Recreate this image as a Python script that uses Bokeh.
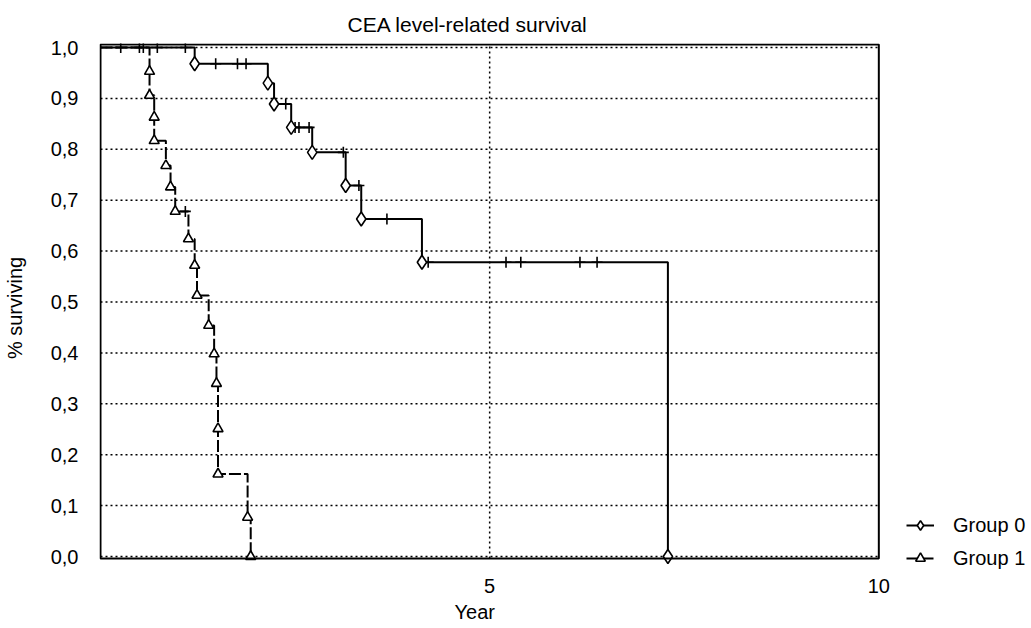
from bokeh.plotting import figure
from bokeh.models import Range1d, FixedTicker, Legend, LegendItem, BoxAnnotation, Title
from bokeh.embed import file_html
from bokeh.resources import INLINE

# ---------------- data ----------------
title_text = "CEA level-related survival"
x_label = "Year"
y_label = "% surviving"
x_tick_values = [5, 10]
x_tick_labels = ["5", "10"]
x_grid_values = [5]
y_tick_values = [0.0, 0.1, 0.2, 0.3, 0.4, 0.5, 0.6, 0.7, 0.8, 0.9, 1.0]
y_tick_labels = ["0,0", "0,1", "0,2", "0,3", "0,4", "0,5", "0,6", "0,7", "0,8", "0,9", "1,0"]
x_axis_min, x_axis_max = 0.0, 10.0
y_axis_min, y_axis_max = -0.004, 1.006

# Group 0: event times (years) and survival after each event
g0_event_t = [1.21, 2.15, 2.23, 2.45, 2.72, 3.15, 3.35, 4.13, 7.29]
g0_event_s = [0.968, 0.930, 0.889, 0.843, 0.794, 0.729, 0.663, 0.578, 0.0]
# Group 0: censored observations
g0_cens_t = [0.26, 0.50, 0.55, 0.73, 1.09, 1.48, 1.76, 1.87, 2.38, 2.50, 2.55,
             2.68, 3.12, 3.32, 3.68, 4.21, 5.21, 5.40, 6.16, 6.38]
g0_cens_s = [1.0, 1.0, 1.0, 1.0, 1.0, 0.968, 0.968, 0.968, 0.889, 0.843, 0.843,
             0.843, 0.794, 0.729, 0.663, 0.578, 0.578, 0.578, 0.578, 0.578]

# Group 1
g1_event_t = [0.63, 0.63, 0.69, 0.69, 0.84, 0.90, 0.96, 1.13, 1.21, 1.24,
              1.39, 1.46, 1.49, 1.51, 1.51, 1.89, 1.93]
g1_event_s = [0.953, 0.906, 0.863, 0.817, 0.768, 0.726, 0.678, 0.624, 0.572, 0.513,
              0.454, 0.398, 0.340, 0.251, 0.162, 0.077, 0.0]
g1_cens_t = [1.09]
g1_cens_s = [0.678]

group_names = ["Group 0", "Group 1"]


def km_steps(ts, ss):
    xs, ys = [0.0], [1.0]
    prev = 1.0
    for t, s in zip(ts, ss):
        xs.append(t); ys.append(prev)
        xs.append(t); ys.append(s)
        prev = s
    return xs, ys


FONT = "Liberation Sans"
FS = "20px"
G1_DASH = "12 3"

# pixel geometry of the plotting box (98..878 x 44..558); the frame is wider so the
# legend (right of the box) can be drawn inside the frame
PX_X = 78.0    # px per year
PX_Y = 509.0   # px per unit survival
FRAME_L, FRAME_R, FRAME_T, FRAME_B = 97, 1031, 43, 572
x_start = -(98 - FRAME_L) / PX_X
x_end = 10 + (FRAME_R - 878) / PX_X
y_end = 1 + (47 - FRAME_T) / PX_Y
y_start = -(FRAME_B - 556) / PX_Y

p = figure(width=1031, height=628, x_range=Range1d(x_start, x_end), y_range=Range1d(y_start, y_end),
           output_backend="svg", toolbar_location=None,
           min_border_left=FRAME_L, min_border_right=1031 - FRAME_R,
           min_border_top=FRAME_T, min_border_bottom=628 - FRAME_B,
           title=title_text)

p.title.text_font = FONT
p.title.text_font_size = "21px"
p.title.text_font_style = "normal"
p.title.text_color = "black"
p.title.align = "left"
p.title.offset = 248
p.title.standoff = 16

p.background_fill_color = "white"
p.border_fill_color = "white"
p.outline_line_color = None

# axes
p.xaxis.ticker = FixedTicker(ticks=x_tick_values)
p.xaxis.major_label_overrides = dict(zip(x_tick_values, x_tick_labels))
p.yaxis.ticker = FixedTicker(ticks=y_tick_values)
p.yaxis.major_label_overrides = dict(zip(y_tick_values, y_tick_labels))
p.yaxis.axis_label = y_label
for ax in (p.xaxis, p.yaxis):
    ax.axis_line_color = None
    ax.major_tick_line_color = None
    ax.minor_tick_line_color = None
    ax.major_label_text_font = FONT
    ax.major_label_text_font_size = FS
    ax.major_label_text_color = "black"
    ax.axis_label_text_font = FONT
    ax.axis_label_text_font_size = FS
    ax.axis_label_text_font_style = "normal"
    ax.axis_label_text_color = "black"
p.xaxis.major_label_standoff = 0
p.yaxis.major_label_standoff = 15
p.yaxis.axis_label_standoff = 22

xt = Title(text=x_label, align="left", offset=355, standoff=6,
           text_font=FONT, text_font_size=FS, text_font_style="normal", text_color="black")
p.add_layout(xt, "below")

# dotted grid, limited to the plotting box
p.grid.visible = False
ny = len(y_tick_values)
p.segment(x0=[x_axis_min] * ny, y0=y_tick_values, x1=[x_axis_max] * ny, y1=y_tick_values,
          line_color="black", line_dash="2 3", line_width=1.5)
nx = len(x_grid_values)
p.segment(x0=x_grid_values, y0=[y_axis_min] * nx, x1=x_grid_values, y1=[y_axis_max] * nx,
          line_color="black", line_dash="2 3", line_width=1.5)

# plotting box border
box = BoxAnnotation(left=x_axis_min, right=x_axis_max, bottom=y_axis_min, top=y_axis_max,
                    fill_color=None, fill_alpha=0, line_color="black", line_alpha=1.0,
                    line_width=2)
p.add_layout(box)

# curves
x0, y0 = km_steps(g0_event_t, g0_event_s)
x1, y1 = km_steps(g1_event_t, g1_event_s)

l0 = p.line(x0, y0, line_color="black", line_width=2)
l1 = p.line(x1, y1, line_color="black", line_width=2, line_dash=G1_DASH)

p.scatter(g0_cens_t, g0_cens_s, marker="cross", size=11, line_color="black", line_width=1.6)
p.scatter(g1_cens_t, g1_cens_s, marker="cross", size=11, line_color="black", line_width=1.6)

m0 = p.scatter(g0_event_t, g0_event_s, marker="diamond", size=14, fill_color="white",
               line_color="black", line_width=1.6)
m1 = p.scatter(g1_event_t, g1_event_s, marker="triangle", size=10, fill_color="white",
               line_color="black", line_width=1.6)

legend = Legend(items=[LegendItem(label=group_names[0], renderers=[l0, m0]),
                       LegendItem(label=group_names[1], renderers=[l1, m1])],
                location=(904 - FRAME_L, 2), padding=0, margin=0, spacing=9,
                glyph_width=28, glyph_height=24, label_standoff=19,
                border_line_color=None, background_fill_alpha=0,
                label_text_font=FONT, label_text_font_size=FS, label_text_color="black")
p.add_layout(legend, "center")

open("out.html", "w").write(file_html(p, INLINE))
